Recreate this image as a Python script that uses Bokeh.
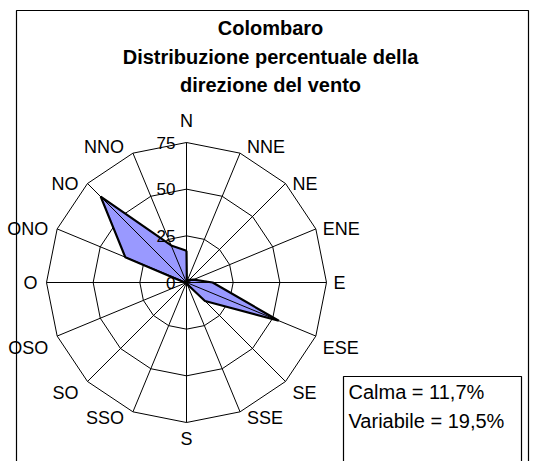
import math
from bokeh.plotting import figure
from bokeh.models import Range1d
from bokeh.core.properties import value
from bokeh.embed import file_html
from bokeh.resources import INLINE

# ---- data ----
directions = ["N", "NNE", "NE", "ENE", "E", "ESE", "SE", "SSE",
              "S", "SSO", "SO", "OSO", "O", "ONO", "NO", "NNO"]
frequencies = [17, 0.5, 2, 4, 14, 53.5, 14, 1,
               0.5, 0.5, 0.5, 0.5, 1, 35.5, 65, 21.5]
ring_values = [0, 25, 50, 75]
ring_labels = ["0", "25", "50", "75"]
title_lines = ["Colombaro", "Distribuzione percentuale della", "direzione del vento"]
note_lines = ["Calma = 11,7%", "Variabile = 19,5%"]

# ---- layout ----
W, H = 542, 461
cx, cy = 186, 282            # centre of the radar in canvas pixels
rmax = max(ring_values)
k = 140 / rmax               # pixels per percent unit
FONT = value("Liberation Sans")

def X(px):
    return (px - cx) / k

def Y(py):
    return (cy - py) / k

p = figure(width=W, height=H, output_backend="svg", toolbar_location=None,
           x_range=Range1d(X(0), X(W)), y_range=Range1d(Y(H), Y(0)),
           min_border=0, outline_line_color=None, background_fill_color="white")
p.axis.visible = False
p.grid.visible = False

n = len(directions)
angles = [2 * math.pi * i / n for i in range(n)]   # clockwise from north

def pt(r, a):
    return r * math.sin(a), r * math.cos(a)

# chart-area border
p.quad(left=X(16), right=X(528), top=Y(10), bottom=Y(H + 20),
       fill_color=None, line_color="black", line_width=1.2)

# rings
rx, ry = [], []
for rv in ring_values[1:]:
    pts = [pt(rv, a) for a in angles] + [pt(rv, angles[0])]
    rx.append([q[0] for q in pts])
    ry.append([q[1] for q in pts])
p.multi_line(rx, ry, line_color="black", line_width=1)

# data polygon fill
poly = [pt(v, a) for v, a in zip(frequencies, angles)]
px_ = [q[0] for q in poly]
py_ = [q[1] for q in poly]
p.patch(px_, py_, fill_color="#9999FF", line_color=None)

# spokes
sx, sy = [], []
for a in angles:
    e = pt(rmax, a)
    sx.append([0, e[0]])
    sy.append([0, e[1]])
p.multi_line(sx, sy, line_color="black", line_width=1)

# data polygon outline
p.line(px_ + [px_[0]], py_ + [py_[0]], line_color="black", line_width=2.2)

# direction labels
lx, ly, la = [], [], []
for d, a in zip(directions, angles):
    vx, vy = pt(rmax, a)
    vxp, vyp = cx + vx * k, cy - vy * k
    s, c = math.sin(a), math.cos(a)
    if abs(s) < 0.01:
        tx = vxp
        ty = vyp - 22 if c > 0 else vyp + 16
        al = "center"
    else:
        tx = vxp + (7 if s > 0 else -9)
        al = "left" if s > 0 else "right"
        if c > 0.9:
            ty = vyp - 6
        elif c < -0.9:
            ty = vyp + 6
        elif c < -0.3:
            ty = vyp + 12
        else:
            ty = vyp
    lx.append(X(tx)); ly.append(Y(ty)); la.append(al)
p.text(x=lx, y=ly, text=directions, text_align=la, text_baseline="middle",
       text_font=FONT, text_font_size="18px", text_color="black")

# radial value labels
p.text(x=[X(cx - 11)] * len(ring_values), y=ring_values, text=ring_labels,
       text_align="right", text_baseline="middle",
       text_font=FONT, text_font_size="17px", text_color="black")

# title
tb = [27, 56, 84]
p.text(x=[X(270)] * 3, y=[Y(b) for b in tb], text=title_lines,
       text_align="center", text_baseline="alphabetic",
       text_font=FONT, text_font_size="20px", text_font_style="bold",
       text_color="black")

# note box
p.quad(left=X(343), right=X(521), top=Y(376), bottom=Y(H + 20),
       fill_color="white", line_color="black", line_width=1.2)
p.text(x=[X(348)] * 2, y=[Y(391), Y(420)], text=note_lines,
       text_align="left", text_baseline="middle",
       text_font=FONT, text_font_size="20px", text_color="black")

open("out.html", "w").write(file_html(p, INLINE))
